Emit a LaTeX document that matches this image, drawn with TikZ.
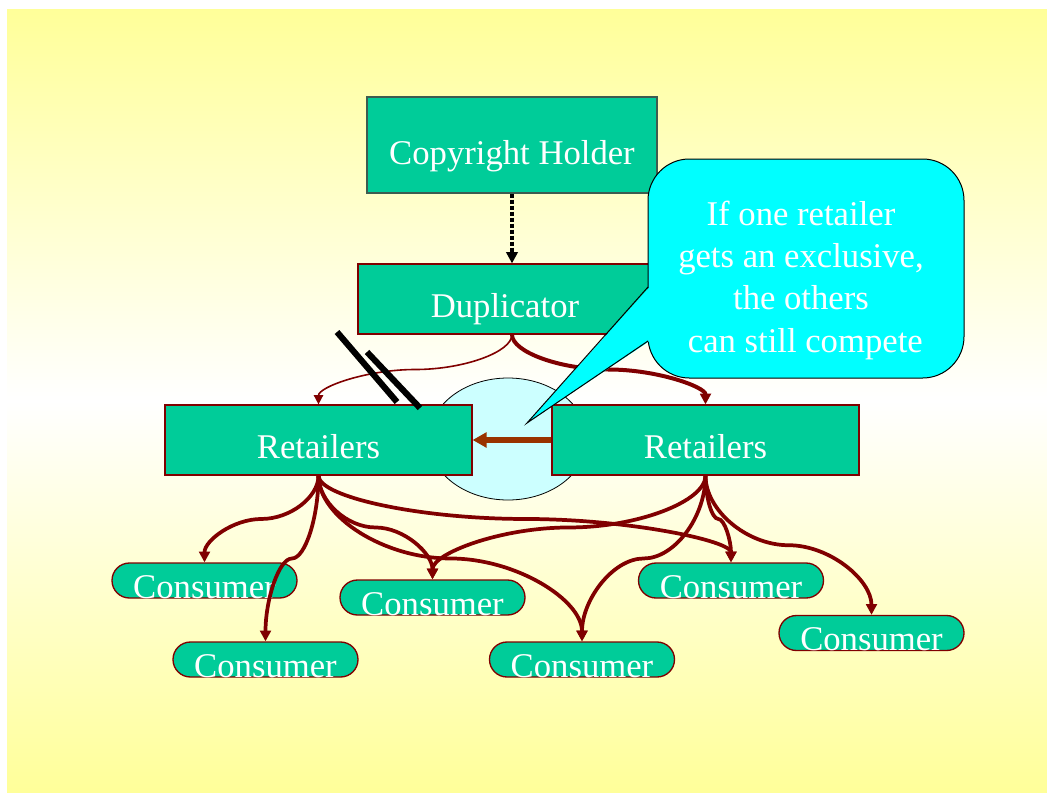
\documentclass[tikz,border=0pt]{standalone}
\usepackage{fontspec}
\setmainfont{Liberation Serif}
\usetikzlibrary{arrows.meta,calc,shapes.geometric}
\definecolor{slideyellow}{HTML}{FFFF99}
\definecolor{boxgreen}{HTML}{00CC99}
\definecolor{maroon}{HTML}{800000}
\definecolor{rust}{HTML}{993300}
\definecolor{paleblue}{HTML}{CCFFFF}
\definecolor{notecyan}{HTML}{00FFFF}
\definecolor{holderedge}{HTML}{3D5C50}

\begin{document}
\begin{tikzpicture}[x=0.75pt,y=-0.75pt,
  lbl/.style={font=\fontsize{26}{31.6}\selectfont, text=white},
  box/.style={lbl, draw=maroon, line width=0.9pt, fill=boxgreen, inner sep=0pt,
    text height=27pt, text depth=0pt},
  consumer/.style={lbl, draw=maroon, line width=1pt, fill=boxgreen,
    rounded corners=13.1pt, minimum width=138.75pt, minimum height=26.25pt,
    inner sep=0pt, text height=26.25pt, text depth=0pt},
  curvy/.style={to path={let \p1=(\tikztostart), \p2=(\tikztotarget) in
    .. controls (\x1,{\y1+0.25*(\y2-\y1)}) and ({\x1+0.25*(\x2-\x1)},{0.5*(\y1+\y2)})
    .. ({0.5*(\x1+\x2)},{0.5*(\y1+\y2)})
    .. controls ({\x1+0.75*(\x2-\x1)},{0.5*(\y1+\y2)}) and (\x2,{\y1+0.75*(\y2-\y1)})
    .. (\p2)}},
  feed/.style={draw=maroon, line width=2.8pt, curvy,
    -{Triangle[length=8pt,width=8pt]}},
  slash/.style={draw=black, line width=4.6pt},
]
\useasboundingbox (0,0) rectangle (1047,793);

% slide background
\fill[white] (0,0) rectangle (1047,793);
\shade[top color=slideyellow, bottom color=slideyellow, middle color=white]
  (7,9) rectangle (1047,793);

% competition zone between the retailers
\node[ellipse, draw=black, line width=0.6pt, fill=paleblue,
  minimum width=118.5pt, minimum height=91.5pt] (ring) at (508,439) {};

% boxes
\node[box, draw=holderedge, minimum width=217.5pt, minimum height=72pt,
  text height=28.5pt] (holder) at (512,145) {Copyright Holder};
\node[box, minimum width=231pt, minimum height=52.5pt] (dup) at (512,299)
  {Duplicator\hspace*{10.5pt}};
\node[box, minimum width=230.25pt, minimum height=52.5pt] (lr) at (318.5,440) {Retailers};
\node[box, minimum width=230.25pt, minimum height=52.5pt] (rr) at (705.5,440) {Retailers};

% consumers
\node[consumer] (c1) at (204.5,580.5) {Consumer};
\node[consumer] (c2) at (265.5,659.5) {Consumer};
\node[consumer] (c3) at (432.5,597.5) {Consumer};
\node[consumer] (c4) at (582,659.5) {Consumer};
\node[consumer] (c5) at (731,580.5) {Consumer};
\node[consumer] (c6) at (871.5,633) {Consumer};

% supply chain
\draw[black, line width=3pt, dash pattern=on 3pt off 1.5pt,
  -{Triangle[length=8.5pt,width=8.5pt]}] (holder.south) -- (dup.north);
\draw[draw=maroon, line width=1.2pt, curvy, -{Triangle[length=7pt,width=7pt]}]
  (dup.south) to (lr.north);
\draw[feed, line width=3pt] (dup.south) to (rr.north);

% competing retailer
\draw[rust, line width=3.8pt, -{Triangle[length=10.5pt,width=11pt]}] (rr.west) -- (lr.east);

% retailers to consumers
\draw[feed] (lr.south) to (c1.north);
\draw[feed] (lr.south) to (c2.north);
\draw[feed] (lr.south) to (c3.north);
\draw[feed] (lr.south) to (c4.north);
\draw[feed] (lr.south) to (c5.north);
\draw[feed] (rr.south) to (c3.north);
\draw[feed] (rr.south) to (c4.north);
\draw[feed] (rr.south) to (c5.north);
\draw[feed] (rr.south) to (c6.north);

% speech bubble
\node[draw=black, line width=0.75pt, fill=notecyan, rounded corners=31pt,
  minimum width=237pt, minimum height=164.25pt] (note) at (806,268.5) {};
\coordinate (tip) at (527,423);
\coordinate (pa) at (648,287);
\coordinate (pb) at (648,341);
\fill[notecyan] (tip) -- ([xshift=1.2pt]pa) -- ([xshift=1.2pt]pb) -- cycle;
\draw[black, line width=0.75pt, line join=miter] (pa) -- (tip) -- (pb);
\node[lbl, align=center, anchor=north, inner sep=0pt] (notetext) at (801,201)
  {If one retailer\\gets an exclusive,\\the others\\~can still compete};

% blocked supply marks
\draw[slash] (337,332) -- (397,402);
\draw[slash] (367,352) -- (420,408);
\end{tikzpicture}
\end{document}
